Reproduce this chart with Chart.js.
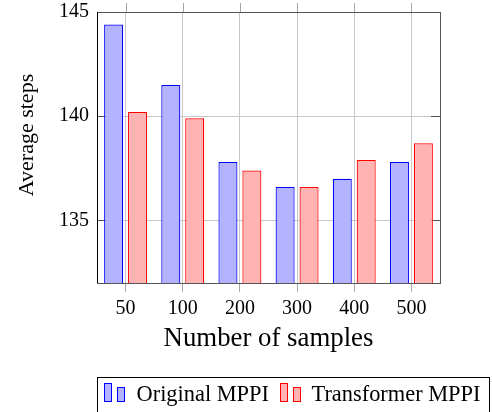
<!DOCTYPE html>
<html>
<head>
<meta charset="utf-8">
<script src="https://cdn.jsdelivr.net/npm/chart.js@4.4.1/dist/chart.umd.min.js"></script>
<style>
html,body{margin:0;padding:0;background:#fff;}
</style>
</head>
<body>
<canvas id="bar_chart" width="492" height="412"></canvas>
<script>
//CHART DATA
const sample_labels=['50','100','200','300','400','500'];
const original_steps=[144.4,141.5,137.8,136.6,137.0,137.8];
const transformer_steps=[140.2,139.9,137.4,136.6,137.9,138.7];
const series_names=['Original MPPI','Transformer MPPI'];
const y_tick_values=[135,140,145];
const y_title='Average steps';

const serif='"Liberation Serif","Times New Roman",serif';
const ctx=document.getElementById('bar_chart').getContext('2d');

function line(c,x1,y1,x2,y2){
    c.beginPath();
    c.moveTo(x1,y1);
    c.lineTo(x2,y2);
    c.stroke();
}

//TICKS OUTSIDE THE PLOT AREA + FRAME
const frame_plugin={
    id:'frame',
    beforeDatasetsDraw(chart){
        const c=chart.ctx,a=chart.chartArea,x=chart.scales.x,y=chart.scales.y;
        c.save();
        c.lineWidth=1;
        c.strokeStyle='#a8a8a8';
        x.ticks.forEach((t,i)=>{
            const px=Math.round(x.getPixelForTick(i))+0.5;
            line(c,px,a.top-9,px,a.top);
        });
        c.strokeStyle='#555';
        y.ticks.forEach(t=>{
            const py=Math.round(y.getPixelForValue(t.value))+0.5;
            line(c,a.left,py,a.left+9,py);
            line(c,a.right-9,py,a.right,py);
        });
        c.restore();
    },
    afterDatasetsDraw(chart){
        const c=chart.ctx,a=chart.chartArea;
        c.save();
        c.lineWidth=1;
        c.strokeStyle='#555';
        line(c,a.left,Math.round(a.top)+0.5,a.right,Math.round(a.top)+0.5);
        line(c,Math.round(a.right)+0.5,a.top,Math.round(a.right)+0.5,a.bottom);
        c.strokeStyle='#000';
        line(c,Math.round(a.left)+0.5,a.top,Math.round(a.left)+0.5,a.bottom);
        //y axis label, sits a bit above the middle like the pgfplots one
        c.translate(27,135);
        c.rotate(-Math.PI/2);
        c.fillStyle='#000';
        c.font='22px '+serif;
        c.textAlign='center';
        c.textBaseline='middle';
        c.fillText(y_title,0,0);
        c.restore();
    }
};

//LEGEND IN A BOX UNDER THE CHART
const legend_plugin={
    id:'boxLegend',
    afterDraw(chart){
        const c=chart.ctx;
        const icon_x=[104.5,280.5];
        const text_x=[136.5,311.5];
        c.save();
        c.lineWidth=1;
        c.strokeStyle='#000';
        c.strokeRect(97.5,377.5,392,40);
        chart.data.datasets.forEach((ds,i)=>{
            c.fillStyle=ds.backgroundColor;
            c.strokeStyle=ds.borderColor;
            c.fillRect(icon_x[i],383.5,7,18);
            c.strokeRect(icon_x[i],383.5,7,18);
            c.fillRect(icon_x[i]+13,387.5,7,14);
            c.strokeRect(icon_x[i]+13,387.5,7,14);
            c.fillStyle='#000';
            c.font='22.4px '+serif;
            c.textBaseline='alphabetic';
            c.fillText(ds.label,text_x[i],401);
        });
        c.restore();
    }
};

let my_chart=new Chart(ctx,{
    type:'bar',
    data:{
        labels:sample_labels,
        datasets:[{
            label:series_names[0],
            data:original_steps,
            backgroundColor:'#b3b3ff',
            borderColor:'#0000ff',
            borderWidth:1.2,
            borderSkipped:false
        },{
            label:series_names[1],
            data:transformer_steps,
            backgroundColor:'#ffb3b3',
            borderColor:'#ff0000',
            borderWidth:1.2,
            borderSkipped:false
        }]
    },
    options:{
        responsive:false,
        animation:false,
        categoryPercentage:0.837,
        barPercentage:0.795,
        layout:{padding:{left:0,top:12,right:52,bottom:0}},
        plugins:{legend:{display:false},tooltip:{enabled:false}},
        scales:{
            x:{
                afterFit(scale){scale.height=129;scale.paddingLeft=0;scale.paddingRight=0;},
                grid:{offset:false,color:'#c8c8c8',tickColor:'#a8a8a8',tickLength:9},
                border:{color:'#555'},
                ticks:{color:'#000',padding:5,font:{family:serif,size:20}},
                title:{display:true,text:'Number of samples',color:'#000',
                    font:{family:serif,size:26.8},padding:{top:0,bottom:57}}
            },
            y:{
                min:132,
                max:145,
                afterFit(scale){scale.width=97;scale.paddingTop=0;scale.paddingBottom=0;},
                afterBuildTicks(scale){
                    scale.ticks=y_tick_values.map(v=>({value:v}));
                },
                grid:{color:'#c8c8c8',drawTicks:false},
                border:{display:false},
                ticks:{color:'#000',padding:8,font:{family:serif,size:20}}
            }
        }
    },
    plugins:[frame_plugin,legend_plugin]
});
</script>
</body>
</html>
